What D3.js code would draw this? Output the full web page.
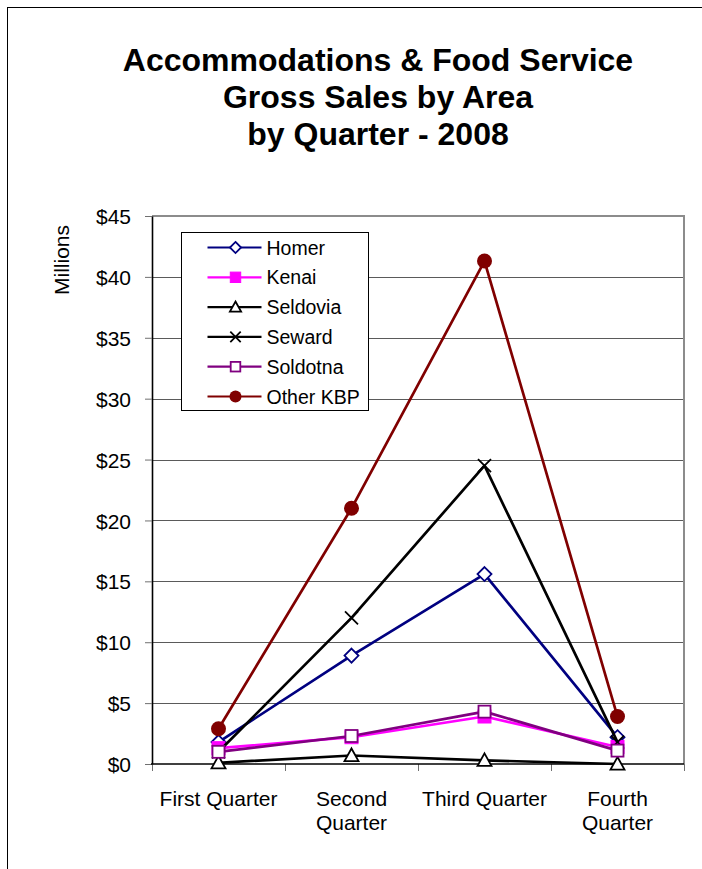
<!DOCTYPE html>
<html>
<head>
<meta charset="utf-8">
<script src="https://cdn.jsdelivr.net/npm/d3@7"></script>
<style>
  body { margin: 0; background: #fff; }
  svg { display: block; font-family: Arial, "Liberation Sans", sans-serif; }
</style>
</head>
<body>
<svg id="chart" width="702" height="869"></svg>
<script>
var quarters = ["First Quarter", "Second Quarter", "Third Quarter", "Fourth Quarter"];
var quarterLines = [["First Quarter"], ["Second", "Quarter"], ["Third Quarter"], ["Fourth", "Quarter"]];
var yTicks = [0, 5, 10, 15, 20, 25, 30, 35, 40, 45];

var homer = [1.8, 8.9, 15.6, 2.2];
var kenai = [1.3, 2.2, 3.9, 1.4];
var seldovia = [0.1, 0.7, 0.3, 0.0];
var seward = [1.0, 12.0, 24.5, 1.8];
var soldotna = [1.0, 2.3, 4.3, 1.1];
var otherKbp = [2.9, 21.0, 41.3, 3.9];

var series = [
    {name: "Homer", values: homer, color: "#000080", marker: "diamond"},
    {name: "Kenai", values: kenai, color: "#ff00ff", marker: "squareFilled"},
    {name: "Seldovia", values: seldovia, color: "#000000", marker: "triangle"},
    {name: "Seward", values: seward, color: "#000000", marker: "x"},
    {name: "Soldotna", values: soldotna, color: "#800080", marker: "squareOpen"},
    {name: "Other KBP", values: otherKbp, color: "#800000", marker: "circle"}
];

var svg = d3.select("#chart");

// outer chart frame
svg.append("rect")
    .attr("x", 7.5).attr("y", 7.5)
    .attr("width", 720).attr("height", 900)
    .attr("fill", "none").attr("stroke", "#000").attr("stroke-width", 1);

var titleLines = ["Accommodations & Food Service", "Gross Sales by Area", "by Quarter - 2008"];
svg.append("g").selectAll("text")
    .data(titleLines)
  .enter().append("text")
    .attr("x", 378)
    .attr("y", function(d, i) { return 71 + i * 37; })
    .attr("text-anchor", "middle")
    .style("font-size", "32px")
    .style("font-weight", "bold")
    .text(function(d) { return d; });

var plotLeft = 152, plotRight = 684, plotTop = 216, plotBottom = 764;

var x = d3.scaleBand().domain(quarters).range([plotLeft, plotRight]);
var y = d3.scaleLinear().domain([0, 45]).range([plotBottom, plotTop]);

// gridlines
svg.append("g").selectAll("line")
    .data(yTicks.slice(1, -1))
  .enter().append("line")
    .attr("x1", plotLeft).attr("x2", plotRight)
    .attr("y1", function(d) { return Math.round(y(d)) + 0.5; })
    .attr("y2", function(d) { return Math.round(y(d)) + 0.5; })
    .attr("stroke", "#5a5a5a").attr("stroke-width", 1);

// plot area border (top and right)
svg.append("path")
    .attr("d", "M" + plotLeft + "," + plotTop + "H" + plotRight + "V" + plotBottom)
    .attr("fill", "none")
    .attr("stroke", "#8c8c8c").attr("stroke-width", 2);

// y axis
var yAxis = d3.axisLeft(y)
    .tickValues(yTicks)
    .tickSize(7)
    .tickSizeOuter(0)
    .tickFormat(function(d) { return "$" + d; });
var gy = svg.append("g").attr("transform", "translate(" + plotLeft + ",0)").call(yAxis);
gy.attr("font-family", null).attr("font-size", null);
gy.select(".domain").attr("stroke", "#000").attr("stroke-width", 1.6);
gy.selectAll(".tick line").attr("stroke", "#707070");
gy.selectAll("text").style("font-size", "21px").attr("x", -21).attr("dy", "0.36em").attr("fill", "#000");

// x axis
var gx = svg.append("g").attr("transform", "translate(0," + plotBottom + ")");
var bounds = quarters.map(function(q) { return x(q); }).concat([plotRight]);
gx.selectAll("line.tick")
    .data(bounds)
  .enter().append("line")
    .attr("class", "tick")
    .attr("x1", function(d) { return Math.round(d) + 0.5; })
    .attr("x2", function(d) { return Math.round(d) + 0.5; })
    .attr("y1", 0).attr("y2", 7)
    .attr("stroke", "#707070");
gx.append("line").attr("x1", plotLeft - 1).attr("x2", plotRight)
    .attr("stroke", "#000").attr("stroke-width", 1.6);
gx.selectAll("text.lab")
    .data(quarters)
  .enter().append("text")
    .attr("class", "lab")
    .attr("text-anchor", "middle")
    .style("font-size", "21px")
    .each(function(d, i) {
        var t = d3.select(this);
        quarterLines[i].forEach(function(line, j) {
            t.append("tspan")
                .attr("x", x(d) + x.bandwidth() / 2)
                .attr("y", 42 + j * 24)
                .text(line);
        });
    });

// axis title
svg.append("text")
    .attr("transform", "translate(69,260) rotate(-90)")
    .attr("text-anchor", "middle")
    .style("font-size", "21px")
    .text("Millions");

function drawMarker(g, type, color, k) {
    k = k || 1;
    if(type === "diamond") {
        var d = 7 * k;
        g.append("path").attr("d", "M0," + (-d) + "L" + d + ",0L0," + d + "L" + (-d) + ",0Z")
            .attr("fill", "#fff").attr("stroke", color).attr("stroke-width", 1.8);
    } else if(type === "squareFilled") {
        var s = 6.5 * k;
        g.append("rect").attr("x", -s).attr("y", -s).attr("width", 2 * s).attr("height", 2 * s)
            .attr("fill", color).attr("stroke", color);
    } else if(type === "squareOpen") {
        var o = 6 * k;
        g.append("rect").attr("x", -o).attr("y", -o).attr("width", 2 * o).attr("height", 2 * o)
            .attr("fill", "#fff").attr("stroke", color).attr("stroke-width", 1.8);
    } else if(type === "triangle") {
        var t = 7 * k;
        g.append("path").attr("d", "M0," + (-t) + "L" + t + "," + (t * 0.8) + "L" + (-t) + "," + (t * 0.8) + "Z")
            .attr("fill", "#fff").attr("stroke", color).attr("stroke-width", 1.8);
    } else if(type === "x") {
        var c = 6.5 * k;
        g.append("path").attr("d", "M" + (-c) + "," + (-c) + "L" + c + "," + c + "M" + (-c) + "," + c + "L" + c + "," + (-c))
            .attr("fill", "none").attr("stroke", color).attr("stroke-width", 1.8);
    } else if(type === "circle") {
        g.append("circle").attr("r", 7.5 * k).attr("fill", color);
    }
}

var line = d3.line()
    .x(function(d, i) { return x(quarters[i]) + x.bandwidth() / 2; })
    .y(function(d) { return y(d); });

var gSeries = svg.append("g").selectAll("g")
    .data(series)
  .enter().append("g");

gSeries.append("path")
    .attr("d", function(s) { return line(s.values); })
    .attr("fill", "none")
    .attr("stroke", function(s) { return s.color; })
    .attr("stroke-width", 2.7)
    .attr("stroke-linejoin", "round");

gSeries.each(function(s) {
    var g = d3.select(this);
    s.values.forEach(function(v, i) {
        var m = g.append("g")
            .attr("transform", "translate(" + (x(quarters[i]) + x.bandwidth() / 2) + "," + y(v) + ")");
        drawMarker(m, s.marker, s.color);
    });
});

// legend
var legend = svg.append("g").attr("transform", "translate(181.5,232.5)");
legend.append("rect")
    .attr("width", 187).attr("height", 178)
    .attr("fill", "#fff").attr("stroke", "#000");
var items = legend.selectAll("g.item")
    .data(series)
  .enter().append("g")
    .attr("class", "item")
    .attr("transform", function(d, i) { return "translate(0," + (15 + i * 29.8) + ")"; });
items.append("line")
    .attr("x1", 26).attr("x2", 80)
    .attr("stroke", function(d) { return d.color; })
    .attr("stroke-width", 2.2);
items.each(function(d) {
    var m = d3.select(this).append("g").attr("transform", "translate(54,0)");
    drawMarker(m, d.marker, d.color, 0.8);
});
items.append("text")
    .attr("x", 85).attr("y", 7)
    .style("font-size", "19.5px")
    .text(function(d) { return d.name; });
</script>
</body>
</html>
